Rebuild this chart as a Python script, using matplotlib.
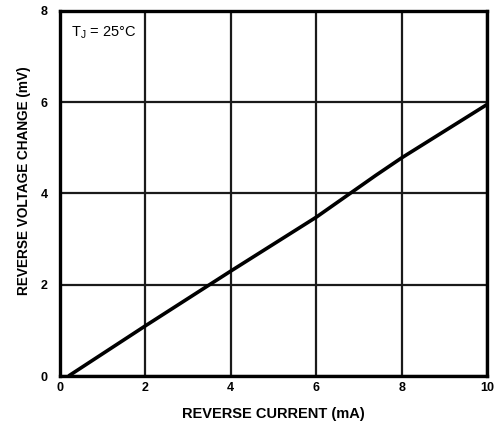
import matplotlib
matplotlib.use('Agg')
import matplotlib.pyplot as plt

# curve
current = [0.2, 2.0, 4.0, 6.0, 7.4, 8.0, 10.0]
voltage = [0.0, 1.1, 2.3, 3.48, 4.4, 4.78, 5.95]

xticks = [0, 2, 4, 6, 8, 10]
yticks = [0, 2, 4, 6, 8]

plt.rcParams['font.family'] = ['Liberation Sans', 'DejaVu Sans']

fig = plt.figure(figsize=(5.0, 4.22), dpi=100)
ax = fig.add_axes([0.12, 0.109, 0.854, 0.865])

ax.plot(current, voltage, color='black', linewidth=2.6, solid_capstyle='butt')

ax.set_xlim(0, 10)
ax.set_ylim(0, 8)
ax.set_xticks(xticks)
ax.set_yticks(yticks)
ax.grid(True, color='#1a1a1a', linewidth=1.6)
ax.tick_params(axis='x', length=0, labelsize=9, pad=4)
ax.tick_params(axis='y', length=0, labelsize=9, pad=9)
for lab in ax.get_xticklabels() + ax.get_yticklabels():
    lab.set_fontweight('bold')
for s in ax.spines.values():
    s.set_linewidth(2.4)

ax.set_xlabel('REVERSE CURRENT (mA)', fontsize=10.5, fontweight='bold', labelpad=10)
ax.set_ylabel('REVERSE VOLTAGE CHANGE (mV)', fontsize=9.8, fontweight='bold')
ax.yaxis.set_label_coords(-0.068, 0.535)

ax.text(0.25, 7.45, r'T$_\mathregular{J}$ = 25°C', fontsize=10.5)

fig.savefig('out.png', dpi=100)
